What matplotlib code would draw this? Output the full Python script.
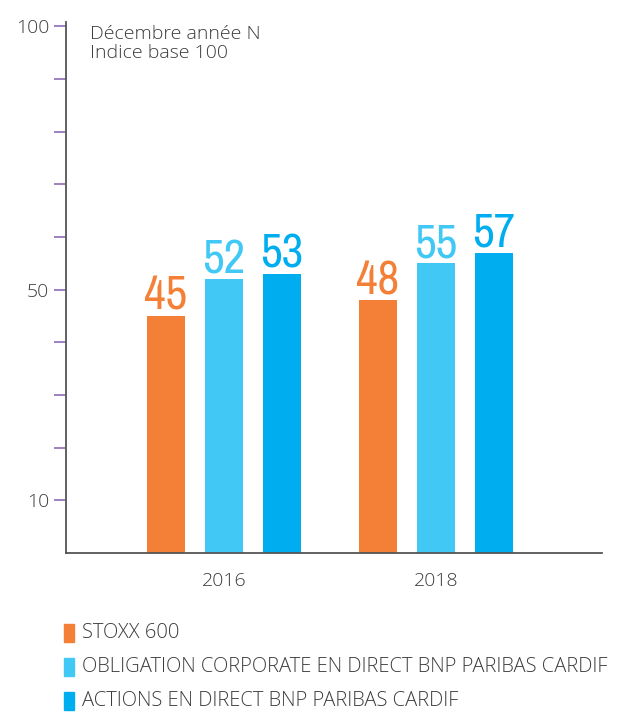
import numpy as np
import matplotlib
matplotlib.use("Agg")
import matplotlib.pyplot as plt
from matplotlib.patches import Rectangle
from matplotlib import font_manager as fm

years = ["2016", "2018"]
series = ["STOXX 600",
          "OBLIGATION CORPORATE EN DIRECT BNP PARIBAS CARDIF",
          "ACTIONS EN DIRECT BNP PARIBAS CARDIF"]
values = [[45, 48], [52, 55], [53, 57]]
colors = ["#F47F36", "#41C8F5", "#00AEEF"]
yticks = [10, 20, 30, 40, 50, 60, 70, 80, 90, 100]
ylabels = ["10", "", "", "", "50", "", "", "", "", "100"]

txt = "#3c3c3c"
plt.rcParams["font.family"] = ["Open Sans", "DejaVu Sans"]

# pick a narrow font for the value labels if one is installed
num_prop = None
cands = []
for f in fm.fontManager.ttflist:
    n = (f.name + " " + str(f.stretch) + " " + f.fname).lower()
    if ("narrow" in n or "condensed" in n) and "italic" not in n and "oblique" not in n:
        score = 0
        if "narrow" in n:
            score += 3
        if "bold" in f.fname.lower():
            score -= 5
        if "extra" in n or "ultra" in n or "semi" in n:
            score -= 1
        cands.append((score, f.fname))
if cands:
    cands.sort(reverse=True)
    num_prop = fm.FontProperties(fname=cands[0][1])

fig = plt.figure(figsize=(6.17, 7.12), dpi=100)
ax = fig.add_axes([0.107, 0.2233, 0.8687, 0.7457])

x = np.arange(len(years))
step = 0.274
width = 0.179
for i, (name, vals, c) in enumerate(zip(series, values, colors)):
    pos = x + (i - 1) * step
    ax.bar(pos, vals, width=width, color=c)
    for p, v in zip(pos, vals):
        t = ax.text(p, v + 1.15, str(v), ha="center", va="baseline", color=c)
        if num_prop is not None:
            t.set_fontproperties(num_prop)
        t.set_fontsize(37)

ax.set_xlim(-0.745, 1.783)
ax.set_ylim(0, 100.8)
ax.set_xticks(x)
ax.set_xticklabels(years, fontsize=14, color=txt, fontweight="light")
ax.tick_params(axis="x", length=0, pad=14)
ax.set_yticks(yticks)
ax.set_yticklabels(ylabels, fontsize=14, color=txt, fontweight="light")
ax.tick_params(axis="y", length=8.6, width=1.2, color="#8E6BB5", pad=3.6)
for s in ["top", "right"]:
    ax.spines[s].set_visible(False)
for s in ["left", "bottom"]:
    ax.spines[s].set_color("#555555")
    ax.spines[s].set_linewidth(1.3)

ax.text(0.045, 0.995, "Décembre année N\nIndice base 100", transform=ax.transAxes,
        ha="left", va="top", fontsize=14, color=txt, linespacing=1.1,
        fontweight="light")

# legend rows
for i, (name, c) in enumerate(zip(series, colors)):
    yc = 1 - (633 + 34 * i) / 712
    fig.patches.append(Rectangle((64 / 617, yc - 9 / 712), 10 / 617, 18 / 712,
                                 color=c, transform=fig.transFigure))
    fig.text(82 / 617, yc, name, ha="left", va="center", fontsize=14.5, color=txt,
             fontweight="light")

fig.savefig("out.png", dpi=100)
